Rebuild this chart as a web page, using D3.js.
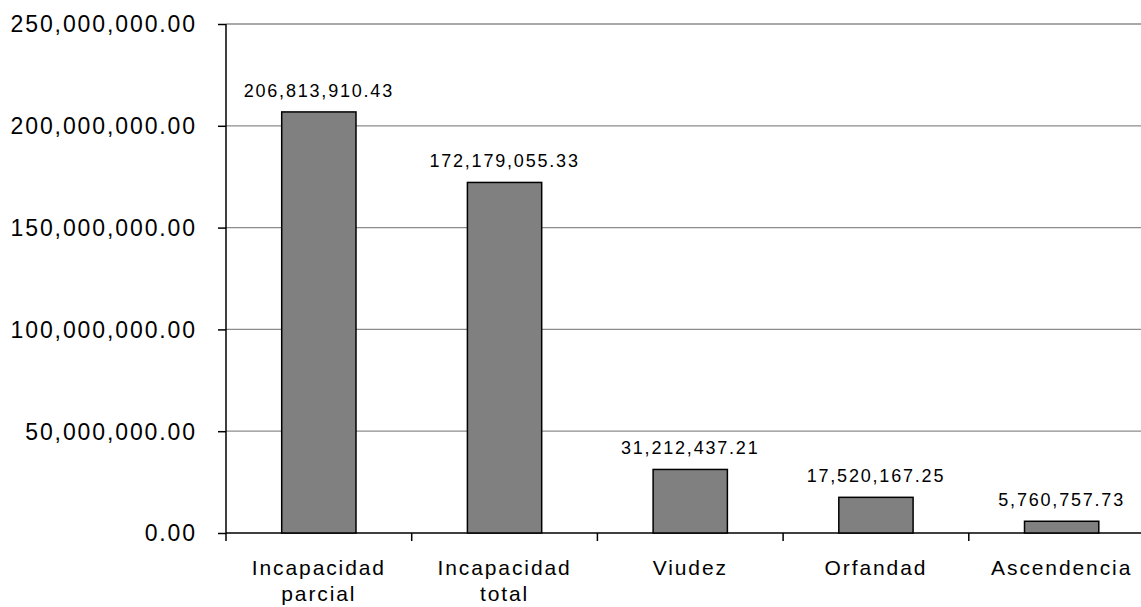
<!DOCTYPE html>
<html>
<head>
<meta charset="utf-8">
<script src="https://cdn.jsdelivr.net/npm/d3@7"></script>
<style>
  body { margin: 0; background: #fff; }
  text { font-family: "Liberation Sans", Arial, sans-serif; fill: #000; }
</style>
</head>
<body>
<div class="chart"></div>
<script>
var categories = ['Incapacidad parcial', 'Incapacidad total', 'Viudez', 'Orfandad', 'Ascendencia']
var values = [206813910.43, 172179055.33, 31212437.21, 17520167.25, 5760757.73]
var yTicks = [0, 50000000, 100000000, 150000000, 200000000, 250000000]

var width = 1141
var height = 607
var plotLeft = 226
var step = 185.7
var plotTop = 24
var plotBottom = 533

var svg = d3.select('.chart')
  .append('svg')
    .attr('width', width)
    .attr('height', height)

var fmt = d3.format(',.2f')

var x = d3.scaleBand()
  .domain(categories)
  .range([plotLeft, plotLeft + step * categories.length])
  .padding(0)

var y = d3.scaleLinear()
  .domain([0, 250000000])
  .range([plotBottom, plotTop])

// gridlines
svg.append('g')
  .selectAll('line')
  .data(yTicks.filter(d => d > 0))
  .enter()
    .append('line')
    .attr('x1', plotLeft)
    .attr('x2', width)
    .attr('y1', d => y(d))
    .attr('y2', d => y(d))
    .style('stroke', '#8c8c8c')
    .style('stroke-width', 1.3)

// y axis
var yAxis = svg.append('g')
  .attr('transform', `translate(${plotLeft},0)`)
  .call(d3.axisLeft(y).tickValues(yTicks).tickFormat(fmt).tickSize(8).tickPadding(21))
yAxis.select('.domain').attr('d', `M0,${plotTop}V${plotBottom}`).style('stroke', '#000').style('stroke-width', 1.5)
yAxis.selectAll('.tick line').style('stroke', '#000').style('stroke-width', 1.5)
yAxis.selectAll('text')
  .style('font-family', '"Liberation Sans", Arial, sans-serif')
  .style('font-size', '23px')
  .style('letter-spacing', '1.9px')
  .attr('dy', '0.34em')

// x axis
var xAxis = svg.append('g')
  .attr('transform', `translate(0,${plotBottom})`)
xAxis.append('line')
  .attr('x1', plotLeft)
  .attr('x2', width)
  .style('stroke', '#000')
  .style('stroke-width', 1.5)
xAxis.selectAll('.xtick')
  .data(categories)
  .enter()
    .append('line')
    .attr('x1', d => x(d))
    .attr('x2', d => x(d))
    .attr('y1', 0)
    .attr('y2', 8)
    .style('stroke', '#000')
    .style('stroke-width', 1.5)

var catLabel = xAxis.selectAll('.cat')
  .data(categories)
  .enter()
    .append('text')
    .attr('text-anchor', 'middle')
    .attr('transform', d => `translate(${x(d) + x.bandwidth() / 2},42)`)
    .style('font-size', '21px')
    .style('letter-spacing', '1.9px')

catLabel.selectAll('tspan')
  .data(d => d.split(' '))
  .enter()
    .append('tspan')
    .attr('x', 0)
    .attr('y', (d, i) => i * 26)
    .text(d => d)

// bars
var barW = x.bandwidth() * 0.4
var bar = svg.append('g')
  .selectAll('g')
  .data(values)
  .enter()
    .append('g')

bar.append('rect')
  .attr('x', (d, i) => x(categories[i]) + (x.bandwidth() - barW) / 2)
  .attr('y', d => y(d))
  .attr('width', barW)
  .attr('height', d => plotBottom - y(d))
  .style('fill', '#808080')
  .style('stroke', '#000')
  .style('stroke-width', 1.5)

bar.append('text')
  .attr('x', (d, i) => x(categories[i]) + x.bandwidth() / 2)
  .attr('y', d => y(d) - 15)
  .attr('text-anchor', 'middle')
  .style('font-size', '18px')
  .style('letter-spacing', '1.8px')
  .text(d => fmt(d))
</script>
</body>
</html>
